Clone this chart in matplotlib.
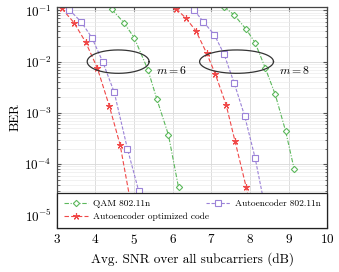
import numpy as np
import matplotlib
matplotlib.use("Agg")
import matplotlib.pyplot as plt

plt.rcParams['font.family'] = 'cmr10'
plt.rcParams['mathtext.fontset'] = 'cm'
plt.rcParams['axes.formatter.use_mathtext'] = True

# QAM 802.11n (m=6 and m=8)
qam6_snr = [4.43, 4.75, 5.01, 5.36, 5.59, 5.89, 6.15]
qam6_ber = [10**-0.98, 10**-1.25, 10**-1.54, 10**-2.16, 10**-2.73, 10**-3.43, 10**-4.45]
qam8_snr = [7.33, 7.59, 7.90, 8.13, 8.39, 8.65, 8.92, 9.14]
qam8_ber = [10**-0.93, 10**-1.09, 10**-1.37, 10**-1.63, 10**-2.12, 10**-2.64, 10**-3.36, 10**-4.10]

# Autoencoder 802.11n
ae6_snr = [3.33, 3.63, 3.91, 4.19, 4.49, 4.83, 5.12]
ae6_ber = [10**-0.99, 10**-1.22, 10**-1.53, 10**-2.0, 10**-2.60, 10**-3.70, 10**-4.52]
ae8_snr = [6.56, 6.79, 7.08, 7.33, 7.59, 7.86, 8.13, 8.40]
ae8_ber = [10**-1.0, 10**-1.22, 10**-1.48, 10**-1.86, 10**-2.42, 10**-3.06, 10**-3.88, 10**-4.9]

# Autoencoder optimized code
opt6_snr = [3.13, 3.45, 3.75, 4.05, 4.36, 4.64, 4.95]
opt6_ber = [10**-0.96, 10**-1.24, 10**-1.62, 10**-2.12, 10**-2.86, 10**-3.62, 10**-4.9]
opt8_snr = [6.09, 6.34, 6.60, 6.88, 7.10, 7.38, 7.61, 7.90, 8.15]
opt8_ber = [10**-0.97, 10**-1.15, 10**-1.40, 10**-1.84, 10**-2.24, 10**-2.84, 10**-3.55, 10**-4.45, 10**-5.3]

green = '#5cb85c'
red = '#f04848'
purple = '#9b82d8'

fig = plt.figure(figsize=(3.39, 2.72), dpi=100)
ax = fig.add_axes([0.167, 0.161, 0.799, 0.814])

qam_style = dict(color=green, ls=(0, (4, 1.5, 1, 1.5)), lw=0.8, marker='D', ms=3.2,
                 mfc='white', mec=green, mew=0.8)
ae_style = dict(color=purple, ls=(0, (3, 1.5)), lw=0.8, marker='s', ms=5,
                mfc='white', mec=purple, mew=0.8)
opt_style = dict(color=red, ls=(0, (4, 2)), lw=0.8, marker=(5, 2, 0), ms=5,
                 mec=red, mew=0.8)

ax.plot(qam6_snr, qam6_ber, label='QAM 802.11n', **qam_style)
ax.plot(qam8_snr, qam8_ber, **qam_style)
ax.plot(opt6_snr, opt6_ber, label='Autoencoder optimized code', **opt_style)
ax.plot(opt8_snr, opt8_ber, **opt_style)
ax.plot(ae6_snr, ae6_ber, label='Autoencoder 802.11n', **ae_style)
ax.plot(ae8_snr, ae8_ber, **ae_style)

# ellipses around BER = 1e-2 (drawn in log space)
t = np.linspace(0, 2 * np.pi, 200)
for cx, w in [(4.59, 1.60), (7.65, 1.91)]:
    ax.plot(cx + w / 2 * np.cos(t), 10 ** (-2 + 0.228 * np.sin(t)), color='#333333', lw=0.9)

ax.text(5.96, 10**-2.16, r'$m=6$', fontsize=8.5, ha='center', va='center')
ax.text(9.16, 10**-2.16, r'$m=8$', fontsize=8.5, ha='center', va='center')

ax.set_yscale('log')
ax.set_xlim(3, 10)
ax.set_ylim(10**-5.25, 10**-0.93)
ax.set_xticks(range(3, 11))
ax.set_yticks([1e-5, 1e-4, 1e-3, 1e-2, 1e-1])
ax.grid(True, which='major', color='#d8d8d8', lw=0.6)
ax.grid(True, which='minor', axis='y', color='#ececec', lw=0.5)
ax.tick_params(which='both', direction='in', top=True, right=True, labelsize=9.5,
               color='#555555')
ax.tick_params(which='major', length=3)
ax.tick_params(which='minor', length=1.8)
for s in ax.spines.values():
    s.set_color('#444444')
    s.set_linewidth(0.9)

ax.set_xlabel('Avg. SNR over all subcarriers (dB)', fontsize=9.5, labelpad=4)
ax.set_ylabel('BER', fontsize=9.5, labelpad=2)

leg = ax.legend(ncol=2, loc='lower left', bbox_to_anchor=(0, 0, 1, 0.2), mode='expand',
                borderaxespad=0, fontsize=6.8, fancybox=False, framealpha=1,
                edgecolor='#222222', handlelength=2.6, handletextpad=0.45,
                borderpad=0.75, labelspacing=0.45)
leg.get_frame().set_linewidth(0.9)

fig.savefig('out.png', dpi=100)
